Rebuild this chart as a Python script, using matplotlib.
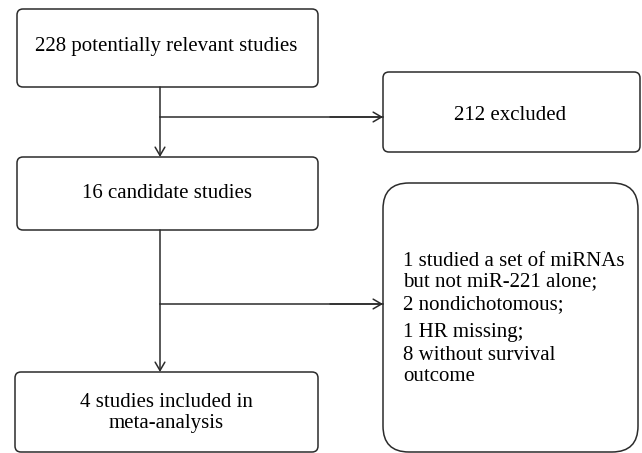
import matplotlib.pyplot as plt
from matplotlib.patches import FancyBboxPatch

plt.rcParams['font.family'] = ['Liberation Serif', 'DejaVu Serif']

# box texts
main_steps = ["228 potentially relevant studies",
              "16 candidate studies",
              "4 studies included in\nmeta-analysis"]
excluded_first = "212 excluded"
excluded_second = ["1 studied a set of miRNAs\nbut not miR-221 alone;",
                   "2 nondichotomous;",
                   "1 HR missing;",
                   "8 without survival\noutcome"]

W, H = 642, 453
fig = plt.figure(figsize=(W / 100, H / 100), dpi=100)
ax = fig.add_axes([0, 0, 1, 1])
ax.set_xlim(0, W)
ax.set_ylim(H, 0)
ax.axis("off")

ec = "#2b2b2b"
fs = 15


def box(x0, y0, x1, y1, r=6):
    p = FancyBboxPatch((x0, y0), x1 - x0, y1 - y0,
                       boxstyle=f"round,pad=0,rounding_size={r}",
                       fc="white", ec=ec, lw=1.1)
    ax.add_patch(p)


def arrow(x0, y0, x1, y1):
    ax.annotate("", xy=(x1, y1), xytext=(x0, y0),
                arrowprops=dict(arrowstyle="->,head_length=0.6,head_width=0.35",
                                color=ec, lw=1.1, shrinkA=0, shrinkB=0))


# left column boxes
box(17, 9, 318, 87)
box(17, 157, 318, 230)
box(15, 372, 318, 452)
# right column boxes
box(383, 72, 640, 152)
box(383, 183, 638, 452, r=26)

# connectors
arrow(160, 87, 160, 157)
ax.plot([160, 383], [117, 117], color=ec, lw=1.1)
arrow(330, 117, 383, 117)
arrow(160, 230, 160, 372)
ax.plot([160, 383], [304, 304], color=ec, lw=1.1)
arrow(330, 304, 383, 304)

ax.text(166, 46, main_steps[0], fontsize=fs, ha="center", va="center")
ax.text(167, 193, main_steps[1], fontsize=fs, ha="center", va="center")
ax.text(166, 413, main_steps[2], fontsize=fs, ha="center", va="center",
        linespacing=1.1)
ax.text(510, 115, excluded_first, fontsize=fs, ha="center", va="center")

item_y = [272, 305, 332, 366]
for t, y in zip(excluded_second, item_y):
    ax.text(403, y, t, fontsize=fs, ha="left", va="center", linespacing=1.1)

fig.savefig("out.png", dpi=100)
